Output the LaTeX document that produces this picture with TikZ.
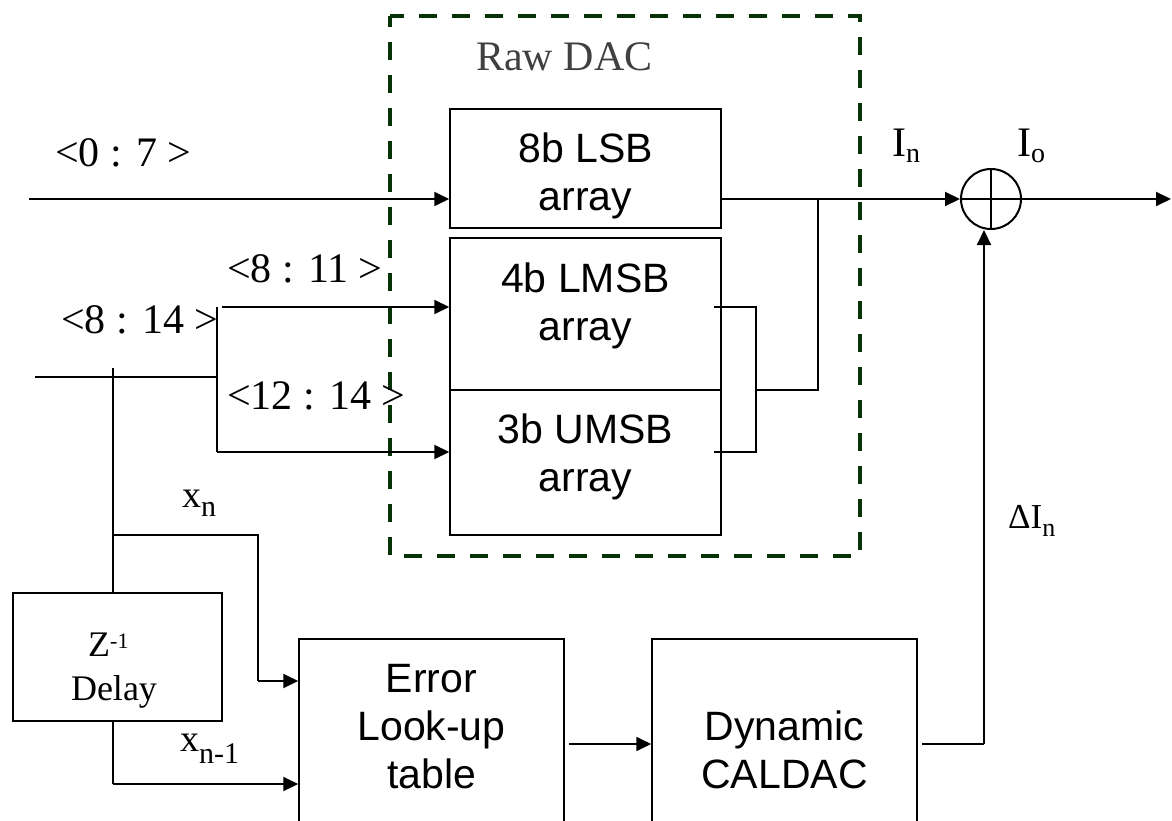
\documentclass[tikz,border=0pt]{standalone}
\usepackage{fontspec}
\setmainfont{Liberation Serif}
\newfontfamily\arialfont{Liberation Sans}
\usetikzlibrary{arrows.meta}
\definecolor{dacgreen}{RGB}{6,50,6}
\definecolor{labelgrey}{RGB}{64,64,64}
\newcommand{\lowsub}[3]{\raisebox{-#1pt}{\fontsize{#2}{#2}\selectfont #3}}
\begin{document}
\begin{tikzpicture}[x=1pt,y=-1pt,
  blk/.style={draw, line width=1.5pt, inner sep=0pt},
  wire/.style={line width=2pt},
  arr/.style={wire, -{Triangle[length=15pt,width=14pt]}},
  lbl/.style={inner sep=0pt, anchor=base west, font=\fontsize{42}{48}\selectfont},
  blktext/.style={inner sep=0pt, anchor=base, font=\arialfont\fontsize{41}{48}\selectfont},
]
\useasboundingbox (0,0) rectangle (1172,821);
\clip (0,0) rectangle (1172,821);

% raw DAC enclosure
\draw[dacgreen, line width=4.5pt, dash pattern=on 18pt off 15pt, dash phase=4pt]
  (390,16) -- (860,16) -- (860,556) -- (390,556) -- cycle;
\node[lbl, text=labelgrey] (rawlbl) at (476,71) {Raw DAC};

% blocks
\node[blk, minimum width=271pt, minimum height=119pt] (lsb) at (585.5,168.5) {};
\node[blk, minimum width=271pt, minimum height=152pt] (lmsb) at (585.5,314) {};
\node[blk, minimum width=271pt, minimum height=145pt] (umsb) at (585.5,462.5) {};
\node[blk, minimum width=209pt, minimum height=128pt] (delay) at (117.5,657) {};
\node[blk, minimum width=265pt, minimum height=201pt] (err) at (431.5,739.5) {};
\node[blk, minimum width=265pt, minimum height=201pt] (cal) at (784.5,739.5) {};
\node[draw, circle, line width=2pt, minimum size=60pt, inner sep=0pt] (sum) at (991,199) {};
\draw[wire] (sum.north) -- (sum.south) (sum.west) -- (sum.east);

% block texts
\node[blktext] (lsbtxt) at (585.5,163) {\begin{tabular}[t]{@{}c@{}}8b LSB\\array\end{tabular}};
\node[blktext] (lmsbtxt) at (585.5,292) {\begin{tabular}[t]{@{}c@{}}4b LMSB\\array\end{tabular}};
\node[blktext] (umsbtxt) at (585.5,443) {\begin{tabular}[t]{@{}c@{}}3b UMSB\\array\end{tabular}};
\node[blktext] (errtxt) at (431.5,692) {\begin{tabular}[t]{@{}c@{}}Error\\Look-up\\table\end{tabular}};
\node[blktext] (caltxt) at (784.5,740) {\begin{tabular}[t]{@{}c@{}}Dynamic\\CALDAC\end{tabular}};
\node[inner sep=0pt, anchor=base west, font=\fontsize{36}{40}\selectfont] (ztxt) at (88,656) {Z\raisebox{8pt}{\fontsize{22}{22}\selectfont -1}};
\node[inner sep=0pt, anchor=base, font=\fontsize{36}{40}\selectfont] (dlytxt) at (114,700) {Delay};

% signal labels
\node[lbl] (l07) at (55,167) {<0 : 7 >};
\node[lbl] (l814) at (61,333) {<8 : 14 >};
\node[lbl] (l811) at (227,282) {<8 : 11 >};
\node[lbl] (l1214) at (227,409) {<12 : 14 >};
\node[lbl] (inlbl) at (892,157) {I\lowsub{6}{28}{n}};
\node[lbl] (iolbl) at (1017,157) {I\lowsub{6}{28}{o}};
\node[lbl, font=\fontsize{35}{40}\selectfont] (dilbl) at (1008,528) {ΔI\lowsub{8}{26}{n}};
\node[lbl, font=\fontsize{38}{40}\selectfont] (xnlbl) at (182,507) {x\lowsub{9}{30}{n}};
\node[lbl, font=\fontsize{38}{40}\selectfont] (xn1lbl) at (180,751) {x\lowsub{12}{30}{n-1}};

% wiring points
\coordinate (in07) at (29,199);
\coordinate (in814) at (35,377);
\coordinate (split) at (217,377);
\coordinate (splittop) at (217,307);
\coordinate (splitbot) at (217,452);
\coordinate (tap) at (113,377);
\coordinate (taptop) at (113,368);
\coordinate (xntap) at (113,535);
\coordinate (xnturn) at (258,535);
\coordinate (xnin) at (258,681);
\coordinate (dlyout) at (113,784);
\coordinate (lmsbout) at (714,307);
\coordinate (umsbout) at (714,452);
\coordinate (bracktop) at (756,307);
\coordinate (brackbot) at (756,452);
\coordinate (brackmid) at (756,390);
\coordinate (merge) at (818,390);
\coordinate (mergetop) at (818,199);
\coordinate (errout) at (569,744);
\coordinate (calout) at (922,744);
\coordinate (corrturn) at (984,744);
\coordinate (outend) at (1171,199);

% connectors
\draw[arr] (in07) -- (lsb.west |- in07);
\draw[wire] (in814) -- (split);
\draw[wire] (splittop) -- (splitbot);
\draw[arr] (splittop -| 222,0) -- (lmsb.west |- splittop);
\draw[arr] (splitbot) -- (umsb.west |- splitbot);
\draw[wire] (taptop) -- (delay.north -| taptop);
\draw[wire] (xntap) -- (xnturn) -- (xnin);
\draw[arr] (xnin) -- (err.west |- xnin);
\draw[wire] (delay.south -| dlyout) -- (dlyout);
\draw[arr] (dlyout) -- (err.west |- dlyout);
\draw[wire] (lmsbout) -- (bracktop) -- (brackbot) -- (umsbout);
\draw[wire] (brackmid) -- (merge) -- (mergetop);
\draw[arr] (lsb.east |- in07) -- (sum.west);
\draw[arr] (sum.east) -- (outend);
\draw[arr] (errout) -- (cal.west |- errout);
\draw[wire] (calout) -- (corrturn);
\draw[arr] (corrturn) -- (corrturn |- sum.south);
\end{tikzpicture}
\end{document}
